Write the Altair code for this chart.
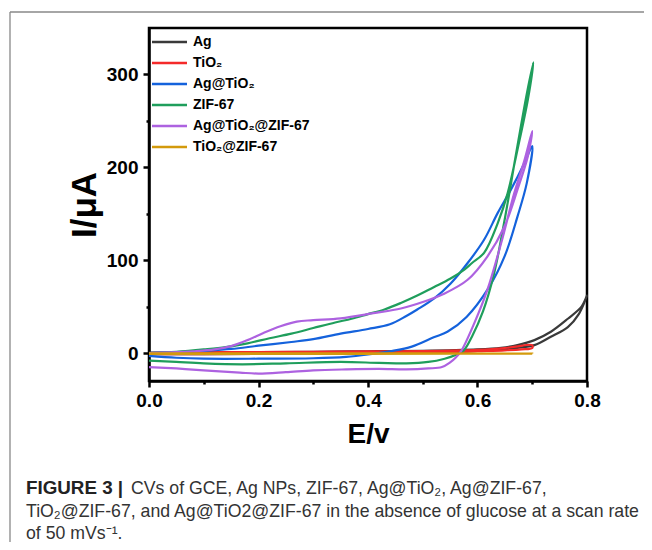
import altair as alt
import pandas as pd

# ---------------- data ----------------
series_names = ["Ag", "TiO₂", "Ag@TiO₂", "ZIF-67", "Ag@TiO₂@ZIF-67", "TiO₂@ZIF-67"]
series_colors = ["#3a3a3a", "#f42a2a", "#1462dc", "#1f9e5c", "#ad62e0", "#d39a0c"]

# Ag (forward then reverse)
ag_E = [0.0, 0.1, 0.2, 0.3, 0.4, 0.5, 0.6, 0.643, 0.673, 0.704, 0.734, 0.765, 0.785, 0.80,
        0.79, 0.765, 0.734, 0.704, 0.673, 0.643, 0.6, 0.5, 0.4, 0.3, 0.2, 0.1, 0.0]
ag_I = [-1, -1, -0.8, -0.5, 0, 0.8, 2.5, 4, 5.7, 8.6, 17.6, 28, 42, 62,
        50, 37, 23, 14, 8.6, 5.7, 4, 2.5, 2, 1.5, 1.2, 1, 0.5]

# TiO2
tio2_E = [0.0, 0.1, 0.2, 0.3, 0.4, 0.5, 0.55, 0.6, 0.65, 0.68, 0.70,
          0.70, 0.67, 0.65, 0.6, 0.55, 0.5, 0.4, 0.3, 0.2, 0.1, 0.0]
tio2_I = [-1, -1, -0.8, -0.5, 0, 0.5, 1, 2, 3, 4, 5.5,
          8.5, 7, 5.5, 3.5, 2.8, 2.2, 1.8, 1.5, 1.2, 1, 0]

# Ag@TiO2
agtio2_E = [0.0, 0.05, 0.1, 0.2, 0.3, 0.36, 0.4, 0.44, 0.48, 0.52, 0.545, 0.58, 0.62, 0.65, 0.673, 0.69, 0.70,
            0.686, 0.661, 0.637, 0.612, 0.582, 0.551, 0.521, 0.49, 0.47, 0.44, 0.40, 0.35, 0.30, 0.26, 0.2, 0.15, 0.1, 0.05, 0.0]
agtio2_I = [-3, -5, -6, -6, -5.5, -4, -1.5, 2, 7, 17, 23, 39, 70, 105, 147, 183, 223,
            205, 176, 151, 122, 97, 75, 59, 47, 40, 31, 26, 21, 15, 12, 8, 4.5, 2.5, 1, 0]

# ZIF-67
zif_E = [0.0, 0.05, 0.1, 0.17, 0.25, 0.35, 0.42, 0.47, 0.51, 0.54, 0.56, 0.575, 0.59, 0.61, 0.63, 0.65, 0.67, 0.69, 0.702,
         0.692, 0.673, 0.655, 0.637, 0.612, 0.59, 0.576, 0.55, 0.52, 0.49, 0.46, 0.43, 0.40, 0.37, 0.34, 0.3, 0.26, 0.22, 0.18, 0.14, 0.1, 0.05, 0.0]
zif_I = [-8, -9.5, -11, -12, -11, -9.5, -10.5, -11, -9.5, -6, -2, 3, 18, 45, 85, 145, 213, 279, 313,
         273, 219, 172, 140, 108, 97, 90, 80, 71, 62, 54, 47, 42, 37, 33, 27, 21, 16, 10.5, 6.5, 4, 1.5, 0]

# Ag@TiO2@ZIF-67
agtiozif_E = [0.0, 0.05, 0.1, 0.166, 0.2, 0.25, 0.3, 0.36, 0.42, 0.47, 0.51, 0.535, 0.55, 0.56, 0.57, 0.594, 0.618, 0.643, 0.667, 0.686, 0.70,
              0.692, 0.673, 0.649, 0.618, 0.582, 0.539, 0.5, 0.46, 0.41, 0.35, 0.3, 0.27, 0.24, 0.21, 0.18, 0.15, 0.12, 0.08, 0.04, 0.0]
agtiozif_I = [-15, -16.5, -18.5, -21, -22, -20.5, -18.5, -17.5, -17, -17.5, -16.5, -15, -10, -5, 2, 32, 68, 118, 172, 208, 239,
              212, 176, 136, 104, 79, 64, 55, 48, 43, 37.5, 35.5, 34, 29, 22, 14, 7.5, 4, 2, 0.8, 0]

# TiO2@ZIF-67
tiozif_E = [0.0, 0.35, 0.70, 0.35, 0.0]
tiozif_I = [-0.8, -0.8, -0.5, -0.3, -0.3]

all_E = [ag_E, tio2_E, agtio2_E, zif_E, agtiozif_E, tiozif_E]
all_I = [ag_I, tio2_I, agtio2_I, zif_I, agtiozif_I, tiozif_I]

x_ticks = [0.0, 0.1, 0.2, 0.3, 0.4, 0.5, 0.6, 0.7, 0.8]
y_ticks = [0, 50, 100, 150, 200, 250, 300]

caption_bold = "FIGURE 3 |"
caption_1 = "CVs of GCE, Ag NPs, ZIF-67, Ag@TiO₂, Ag@ZIF-67,"
caption_2 = "TiO₂@ZIF-67, and Ag@TiO2@ZIF-67 in the absence of glucose at a scan rate"
caption_3 = "of 50 mVs⁻¹."

rows = []
for name, es, is_ in zip(series_names, all_E, all_I):
    for k, (e, i) in enumerate(zip(es, is_)):
        rows.append({"series": name, "E": e, "I": i, "k": k})
df = pd.DataFrame(rows)

FONT = "Liberation Sans"

# ---------------- chart ----------------
lines = alt.Chart(df).mark_line(strokeWidth=2.2, interpolate="catmull-rom").encode(
    x=alt.X("E:Q", scale=alt.Scale(domain=[0, 0.8], nice=False, zero=False),
            axis=alt.Axis(values=x_ticks, title="E/v", titleFontSize=28,
                          labelExpr="round(datum.value*10) % 2 == 0 ? format(datum.value, '.1f') : ''",
                          tickSize={"condition": {"test": "round(datum.value*10) % 2 == 0", "value": 6}, "value": 3},
                          labelFlush=False, labelOverlap=False, labelPadding=4, titlePadding=10)),
    y=alt.Y("I:Q", scale=alt.Scale(domain=[-30, 350], nice=False, zero=False),
            axis=alt.Axis(values=y_ticks, title="I/μA", titleFontSize=35,
                          labelExpr="datum.value % 100 == 0 ? format(datum.value, 'd') : ''",
                          tickSize={"condition": {"test": "datum.value % 100 == 0", "value": 6}, "value": 3},
                          labelOverlap=False, labelPadding=5, titlePadding=4)),
    color=alt.Color("series:N", scale=alt.Scale(domain=series_names, range=series_colors),
                    legend=alt.Legend(orient="none", legendX=13.5, legendY=7, title=None,
                                      symbolType="M-3.5,0H3.5", symbolSize=100, symbolStrokeWidth=2.5,
                                      labelFont=FONT, labelFontSize=14, labelFontWeight="bold",
                                      labelColor="black", labelOffset=16.5, rowPadding=7, padding=0)),
    order="k:Q",
)

def txt(s, x, y, bold=False, color="#333333", size=17.7):
    return alt.Chart(pd.DataFrame({"t": [s]})).mark_text(
        align="left", baseline="alphabetic", font=FONT, fontSize=size,
        fontWeight="bold" if bold else "normal", color=color
    ).encode(text="t:N", x=alt.value(x), y=alt.value(y))

def rule(x, x2, y, y2):
    return alt.Chart(pd.DataFrame({"a": [0]})).mark_rule(color="#888888", strokeWidth=1.3).encode(
        x=alt.value(x), x2=alt.value(x2), y=alt.value(y), y2=alt.value(y2))

border_left = rule(-139, -139, -16, 520)
border_top = rule(-139, 495, -16, -16)

chart = alt.layer(
    border_left, border_top, lines,
    txt(caption_bold, -123, 466, bold=True, color="#222222", size=18.8),
    txt(caption_1, -18, 466),
    txt(caption_2, -123, 489),
    txt(caption_3, -123, 511),
).properties(
    width=438, height=353,
    padding={"left": 141, "top": 20, "right": 57, "bottom": 161},
    autosize=alt.AutoSizeParams(type="none"),
    background="white",
).configure_view(
    stroke="black", strokeWidth=2.5
).configure_axis(
    grid=False, domainColor="black", domainWidth=2.5, tickColor="black", tickWidth=2.5,
    labelFont=FONT, labelFontSize=19, labelFontWeight="bold", labelColor="black",
    titleFont=FONT, titleFontWeight="bold", titleColor="black",
)

chart.save("out.html", embed_options={"renderer": "svg", "actions": False})
